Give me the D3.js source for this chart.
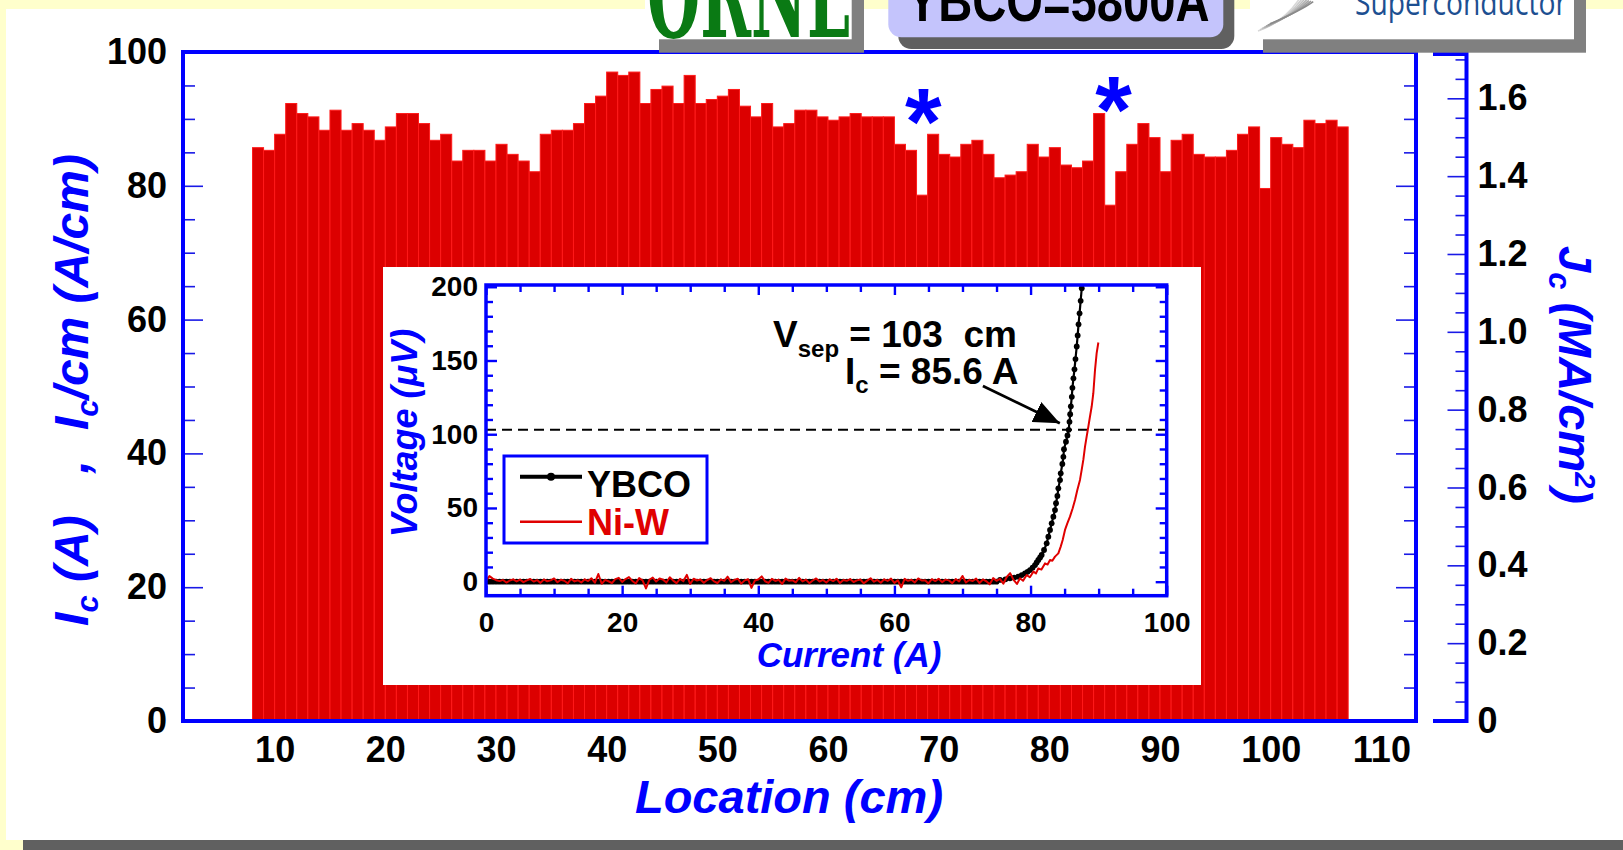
<!DOCTYPE html>
<html>
<head>
<meta charset="utf-8">
<script src="https://cdn.jsdelivr.net/npm/d3@7"></script>
<style>
  html, body { margin: 0; padding: 0; background: #ffffcc; overflow: hidden; }
  svg { display: block; font-family: "Liberation Sans", Arial, Helvetica, sans-serif; font-weight: bold; }
</style>
</head>
<body>
<svg id="chart" width="1623" height="850"></svg>
<script>
// ---------- Ic along the 1 m tape, one bar per cm ----------
const locations = [8,9,10,11,12,13,14,15,16,17,18,19,20,21,22,23,24,25,26,27,28,29,30,31,32,33,34,35,36,37,38,39,40,41,42,43,44,45,46,47,48,49,50,51,52,53,54,55,56,57,58,59,60,61,62,63,64,65,66,67,68,69,70,71,72,73,74,75,76,77,78,79,80,81,82,83,84,85,86,87,88,89,90,91,92,93,94,95,96,97,98,99,100,101,102,103,104,105,106];
const icValues = [
  85.7,85.3,87.7,92.3,90.8,90.3,88.3,91.3,88.3,89.3,
  88.3,86.8,88.8,90.8,90.8,89.3,86.8,87.7,83.7,85.3,
  85.3,83.7,86.2,84.7,83.7,82.1,87.7,88.3,88.3,89.3,
  92.3,93.4,97.0,96.5,97.0,92.3,94.4,94.9,92.3,96.5,
  92.3,92.9,93.4,94.4,91.9,90.3,92.3,88.8,89.3,91.3,
  91.3,90.3,89.8,90.3,90.8,90.3,90.3,90.3,86.2,85.3,
  78.6,87.7,84.7,84.3,86.2,86.8,84.7,81.2,81.6,82.1,
  86.2,84.3,85.7,83.1,82.7,83.7,90.8,77.1,82.1,86.2,
  89.3,87.2,82.1,86.8,87.7,84.7,84.3,84.3,85.3,87.7,
  88.8,79.6,87.2,86.2,85.7,89.8,89.3,89.8,88.8];
const yTicks = [0, 20, 40, 60, 80, 100];
const xTicks = [10, 20, 30, 40, 50, 60, 70, 80, 90, 100, 110];
const jcTicks = [0, 0.2, 0.4, 0.6, 0.8, 1.0, 1.2, 1.4, 1.6];
const jcTickLabels = ["0", "0.2", "0.4", "0.6", "0.8", "1.0", "1.2", "1.4", "1.6"];
// defect markers (location, Ic level of the marker)
const starLocations = [68.6, 85.8];
const starLevels = [91.8, 93.6];

// ---------- inset: V-I curve of the whole tape ----------
const sweepCurrent = [
  0,0.5,1,1.5,2,2.5,3,3.5,4,4.5,5,5.5,6,6.5,7,7.5,8,8.5,9,9.5,
  10,10.5,11,11.5,12,12.5,13,13.5,14,14.5,15,15.5,16,16.5,17,17.5,18,18.5,19,19.5,
  20,20.5,21,21.5,22,22.5,23,23.5,24,24.5,25,25.5,26,26.5,27,27.5,28,28.5,29,29.5,
  30,30.5,31,31.5,32,32.5,33,33.5,34,34.5,35,35.5,36,36.5,37,37.5,38,38.5,39,39.5,
  40,40.5,41,41.5,42,42.5,43,43.5,44,44.5,45,45.5,46,46.5,47,47.5,48,48.5,49,49.5,
  50,50.5,51,51.5,52,52.5,53,53.5,54,54.5,55,55.5,56,56.5,57,57.5,58,58.5,59,59.5,
  60,60.5,61,61.5,62,62.5,63,63.5,64,64.5,65,65.5,66,66.5,67,67.5,68,68.5,69,69.5,
  70,70.5,71,71.5,72,72.5,73,73.5,74,74.5,75,75.5,76,76.5];
// YBCO: superconducting baseline (0 .. 75 A) then the transition
const ybcoBaseline = [
  0,0,0,0,0,0,0,0,0,0,0,0,0,0,0,0,0,0,0,0,
  0,0,0,0,0,0,0,0,0,0,0,0,0,0,0,0,0,0,0,0,
  0,0,0,0,0,0,0,0,0,0,0,0,0,0,0,0,0,0,0,0,
  0,0,0,0,0,0,0,0,0,0,0,0,0,0,0,0,0,0,0,0,
  0,0,0,0,0,0,0,0,0,0,0,0,0,0,0,0,0,0,0,0,
  0,0,0,0,0,0,0,0,0,0,0,0,0,0,0,0,0,0,0,0,
  0,0,0,0,0,0,0,0,0,0,0,0,0,0,0,0,0,0,0,0,
  0,0,0,0,0,0,0,0,0,0,0];
const ybcoRiseCurrent = [75.51,76.3,76.98,77.6,78.20,78.7,79.18,79.55,79.92,80.3,80.65,80.9,81.14,81.4,81.63,81.98,82.37,82.61,82.86,83.10,83.35,83.59,83.74,83.94,84.08,84.33,84.43,84.67,84.82,84.91,85.20,85.42,85.60,85.72,85.82,85.92,86.06,86.15,86.30,86.45,86.60,86.78,86.92,87.05,87.20,87.36,87.52,87.62];
const ybcoRiseVoltage = [1.2,1.6,2.3,2.8,3.4,4.5,5.7,6.7,7.9,9.5,11.3,13.0,14.7,16.4,18.1,21.5,26.0,30.5,35.1,39.6,44.1,48.6,53.2,58.1,63.3,68.9,73.5,79.8,84.7,89.8,94.9,99.2,103.0,108.4,113.6,118.9,125.4,131.5,137.9,144.0,151.0,159.5,167.0,174.5,182.0,190.5,199.0,205.0];
// Ni-W substrate signal: noisy baseline (0 .. 76.5 A) then the rise
const niwBaseline = [
  0.5,3.8,2.1,1.0,0.4,1.2,-0.6,0.8,1.6,0.2,
  1.4,-0.3,0.9,1.8,0.1,1.1,-0.8,1.5,0.3,0.9,
  2.2,-0.4,1.3,0.6,-1.1,1.9,0.2,1.0,-0.5,1.6,
  0.4,2.3,-0.7,5.2,-1.4,1.2,0.3,-0.9,1.7,2.6,
  -0.2,1.8,3.1,0.5,-1.2,2.4,0.9,-4.6,1.3,2.8,
  0.1,2.2,1.4,-0.6,3.0,0.7,-1.0,1.9,0.4,4.6,
  -1.6,2.0,0.8,1.5,-0.7,1.1,2.4,0.2,-0.9,1.6,
  0.6,3.4,-0.3,1.2,2.0,-1.3,0.9,1.7,-4.2,0.8,
  1.5,3.6,0.3,-0.8,1.9,0.5,1.3,-1.5,2.1,0.7,
  1.0,-0.4,2.6,0.2,1.4,-1.0,0.8,2.2,0.1,1.2,
  -0.6,1.6,0.4,2.0,-0.9,1.1,0.6,1.8,-0.2,0.9,
  1.5,-1.1,0.7,2.3,0.0,1.2,-0.7,1.6,0.5,2.1,
  -0.8,1.0,-3.8,1.9,0.6,1.3,-0.5,2.2,0.8,1.0,
  -1.2,1.7,0.4,2.0,-0.3,1.4,0.9,-1.0,1.8,0.2,
  3.9,-0.6,1.2,0.5,2.1,-0.9,1.5,0.3,-1.8,2.4,
  0.6,1.9,-1.4,3.2];
const niwRiseCurrent = [77.0,77.5,78.0,78.45,78.9,79.43,79.9,80.41,80.8,81.14,81.6,82.12,82.5,82.86,83.2,83.59,84.08,84.43,84.72,85.06,85.40,85.79,86.19,86.53,86.87,87.26,87.51,87.75,88.00,88.24,88.49,88.73,88.98,89.22,89.47,89.71,89.96];
const niwRiseVoltage = [5.8,1.2,-1.5,2.3,0.6,4.5,3.0,6.8,5.6,9.0,8.2,12.4,11.6,14.7,14.2,17.0,19.2,23.8,28.3,35.1,39.6,44.1,49.8,55.4,62.2,69.0,75.8,82.6,91.6,98.4,105.2,112.0,118.8,127.8,143.6,155.0,162.2];
const insetXTicks = [0, 20, 40, 60, 80, 100];
const insetYTicks = [0, 50, 100, 150, 200];
const criterionVoltage = 103;       // 1 uV/cm over the 103 cm voltage-tap separation
const arrowTail = [73.0, 132.7];    // (A, uV)
const arrowTip = [84.3, 107.4];

// ---------- drawing ----------
const W = 1623, H = 850;
const BLUE = "#0000ff";
const svg = d3.select("#chart");

// slide background and white panel with its shadow
svg.append("rect").attr("width", W).attr("height", H).attr("fill", "#ffffcc");
svg.append("rect").attr("x", 23).attr("y", 840).attr("width", W - 23).attr("height", 10).attr("fill", "#606060");
svg.append("rect").attr("x", 6).attr("y", 9).attr("width", W - 6).attr("height", 831).attr("fill", "#ffffff");

const plot = { left: 183, right: 1416, top: 52, bottom: 721 };
const x = d3.scaleLinear().domain([1.72, 113.13]).range([plot.left, plot.right]);
const y = d3.scaleLinear().domain([0, 100]).range([plot.bottom, plot.top]);
const jc = d3.scaleLinear().domain([0, 1.719]).range([plot.bottom, plot.top]);

// bars
svg.append("g").selectAll("rect").data(locations).join("rect")
  .attr("x", d => x(d))
  .attr("width", d => x(d + 1) - x(d))
  .attr("y", (d, i) => y(icValues[i]))
  .attr("height", (d, i) => y(0) - y(icValues[i]))
  .attr("fill", "#dc0000")
  .attr("stroke", "#ff1a1a")
  .attr("stroke-width", 1);

// inner ticks on both vertical sides of the frame
function tickAxis(axis, pos, values, size) {
  const g = svg.append("g").attr("transform", pos)
    .call(axis.tickValues(values).tickSize(size).tickFormat(""));
  g.select(".domain").remove();
  g.selectAll("line").attr("stroke", "#1a1ae6").attr("stroke-width", 1.6);
  return g;
}
function labelStyle(g, size) {
  g.select(".domain").remove();
  g.attr("font-family", null).attr("font-size", null);
  g.selectAll("text").attr("font-size", size).attr("fill", "#000");
}
const yMinor = d3.range(0, 101, 5).filter(v => v % 20 !== 0);
tickAxis(d3.axisLeft(y), `translate(${plot.left},0)`, yMinor, -12);
tickAxis(d3.axisLeft(y), `translate(${plot.left},0)`, yTicks, -20);
tickAxis(d3.axisRight(y), `translate(${plot.right},0)`, yMinor, -12);
tickAxis(d3.axisRight(y), `translate(${plot.right},0)`, yTicks, -20);

// y labels
const yl = svg.append("g").attr("transform", `translate(${plot.left},0)`)
  .call(d3.axisLeft(y).tickValues(yTicks).tickSize(0).tickPadding(16));
labelStyle(yl, 36);

// x labels
const xl = svg.append("g").attr("transform", `translate(0,${plot.bottom})`)
  .call(d3.axisBottom(x).tickValues(xTicks).tickSize(0).tickPadding(15));
labelStyle(xl, 36);

// frame
svg.append("rect")
  .attr("x", plot.left).attr("y", plot.top)
  .attr("width", plot.right - plot.left).attr("height", plot.bottom - plot.top)
  .attr("fill", "none").attr("stroke", BLUE).attr("stroke-width", 4);

// Jc axis on the right
const jcX = 1466.5;
const jcMinor = d3.range(0, 1.7001, 0.05).filter(v => Math.abs(v / 0.2 - Math.round(v / 0.2)) > 1e-6);
tickAxis(d3.axisRight(jc), `translate(${jcX},0)`, jcMinor, -11);
tickAxis(d3.axisRight(jc), `translate(${jcX},0)`, jcTicks, -19);
svg.append("path")
  .attr("d", `M1433,${plot.top + 2}H${jcX}V${plot.bottom}H1433`)
  .attr("fill", "none").attr("stroke", BLUE).attr("stroke-width", 4);
const jl = svg.append("g").attr("transform", `translate(${jcX},0)`)
  .call(d3.axisRight(jc).tickValues(jcTicks).tickSize(0).tickPadding(11)
    .tickFormat((d, i) => jcTickLabels[i]));
labelStyle(jl, 36);

// defect markers
svg.append("g").selectAll("text").data(starLocations).join("text")
  .attr("x", d => x(d))
  .attr("y", (d, i) => y(starLevels[i]))
  .attr("dy", "0.5em")
  .attr("text-anchor", "middle")
  .attr("font-size", 94)
  .attr("fill", BLUE)
  .text("*");

// axis titles
svg.append("text")
  .attr("x", 789).attr("y", 813)
  .attr("text-anchor", "middle")
  .attr("font-size", 47).attr("font-style", "italic").attr("fill", BLUE)
  .text("Location (cm)");

const lt = svg.append("text")
  .attr("transform", "translate(88,390) rotate(-90)")
  .attr("text-anchor", "middle")
  .attr("font-size", 48).attr("font-style", "italic").attr("fill", BLUE)
  .style("white-space", "pre");
lt.append("tspan").text("I");
lt.append("tspan").attr("font-size", 31).attr("dy", 10).text("c");
lt.append("tspan").attr("dy", -10).text(" (A)");
lt.append("tspan").attr("dx", 42).text(",");
lt.append("tspan").attr("dx", 30).text("I");
lt.append("tspan").attr("font-size", 31).attr("dy", 10).text("c");
lt.append("tspan").attr("dy", -10).text("/cm (A/cm)");

const rt = svg.append("text")
  .attr("transform", "translate(1559,375) rotate(90)")
  .attr("text-anchor", "middle")
  .attr("font-size", 47).attr("font-style", "italic").attr("fill", BLUE)
  .style("white-space", "pre");
rt.append("tspan").text("J");
rt.append("tspan").attr("font-size", 31).attr("dy", 10).text("c");
rt.append("tspan").attr("dy", -10).text(" (MA/cm");
rt.append("tspan").attr("font-size", 29).attr("dy", -16).text("2");
rt.append("tspan").attr("dy", 16).text(")");

// ---------- inset ----------
svg.append("rect").attr("x", 383).attr("y", 267).attr("width", 818).attr("height", 418).attr("fill", "#ffffff");

const inset = { left: 486, right: 1166.7, top: 285, bottom: 595.7 };
const ix = d3.scaleLinear().domain([0, 100]).range([inset.left, inset.right]);
const iy = d3.scaleLinear().domain([-9.5, 201.2]).range([inset.bottom, inset.top]);

const ixMinor = d3.range(0, 101, 5).filter(v => v % 20 !== 0);
const iyMinor = d3.range(0, 201, 10).filter(v => v % 50 !== 0);
function insetTicks(axis, pos, values, size) {
  const g = svg.append("g").attr("transform", pos)
    .call(axis.tickValues(values).tickSize(size).tickFormat(""));
  g.select(".domain").remove();
  g.selectAll("line").attr("stroke", BLUE).attr("stroke-width", 2.4);
}
insetTicks(d3.axisBottom(ix), `translate(0,${inset.bottom})`, ixMinor, -7);
insetTicks(d3.axisBottom(ix), `translate(0,${inset.bottom})`, insetXTicks, -10);
insetTicks(d3.axisTop(ix), `translate(0,${inset.top})`, ixMinor, -7);
insetTicks(d3.axisTop(ix), `translate(0,${inset.top})`, insetXTicks, -10);
insetTicks(d3.axisLeft(iy), `translate(${inset.left},0)`, iyMinor, -7);
insetTicks(d3.axisLeft(iy), `translate(${inset.left},0)`, insetYTicks, -11);
insetTicks(d3.axisRight(iy), `translate(${inset.right},0)`, iyMinor, -7);
insetTicks(d3.axisRight(iy), `translate(${inset.right},0)`, insetYTicks, -11);

const ixl = svg.append("g").attr("transform", `translate(0,${inset.bottom})`)
  .call(d3.axisBottom(ix).tickValues(insetXTicks).tickSize(0).tickPadding(16));
labelStyle(ixl, 28);
const iyl = svg.append("g").attr("transform", `translate(${inset.left},0)`)
  .call(d3.axisLeft(iy).tickValues(insetYTicks).tickSize(0).tickPadding(8));
labelStyle(iyl, 28);

svg.append("defs").append("clipPath").attr("id", "insetClip")
  .append("rect").attr("x", inset.left).attr("y", inset.top)
  .attr("width", inset.right - inset.left).attr("height", inset.bottom - inset.top);

const curves = svg.append("g").attr("clip-path", "url(#insetClip)");

// criterion line
curves.append("line")
  .attr("x1", ix(0)).attr("x2", ix(100))
  .attr("y1", iy(criterionVoltage)).attr("y2", iy(criterionVoltage))
  .attr("stroke", "#000").attr("stroke-width", 2).attr("stroke-dasharray", "10,6");

const line = d3.line().x(d => ix(d[0])).y(d => iy(d[1]));
const ybco = d3.zip(sweepCurrent.slice(0, ybcoBaseline.length), ybcoBaseline)
  .concat(d3.zip(ybcoRiseCurrent, ybcoRiseVoltage));
const niw = d3.zip(sweepCurrent, niwBaseline)
  .concat(d3.zip(niwRiseCurrent, niwRiseVoltage));

curves.append("path").attr("d", line(ybco))
  .attr("fill", "none").attr("stroke", "#000").attr("stroke-width", 2.2);
curves.append("g").selectAll("circle").data(ybco).join("circle")
  .attr("cx", d => ix(d[0])).attr("cy", d => iy(d[1])).attr("r", 2.9).attr("fill", "#000");
curves.append("path").attr("d", line(niw))
  .attr("fill", "none").attr("stroke", "#e00000").attr("stroke-width", 2)
  .attr("stroke-linejoin", "round");

// inset frame
svg.append("rect")
  .attr("x", inset.left).attr("y", inset.top)
  .attr("width", inset.right - inset.left).attr("height", inset.bottom - inset.top)
  .attr("fill", "none").attr("stroke", BLUE).attr("stroke-width", 3.5);

// annotation and arrow
const defs = svg.select("defs");
defs.append("marker").attr("id", "arrowHead")
  .attr("markerUnits", "userSpaceOnUse")
  .attr("markerWidth", 28).attr("markerHeight", 22)
  .attr("refX", 26).attr("refY", 11).attr("orient", "auto")
  .append("path").attr("d", "M0,0L26,11L0,22Z").attr("fill", "#000");
svg.append("line")
  .attr("x1", ix(arrowTail[0])).attr("y1", iy(arrowTail[1]))
  .attr("x2", ix(arrowTip[0])).attr("y2", iy(arrowTip[1]))
  .attr("stroke", "#000").attr("stroke-width", 2.8)
  .attr("marker-end", "url(#arrowHead)");

const a1 = svg.append("text").attr("x", 773).attr("y", 346.7)
  .attr("font-size", 37).attr("fill", "#000").style("white-space", "pre");
a1.append("tspan").text("V");
a1.append("tspan").attr("font-size", 24).attr("dy", 10).text("sep");
a1.append("tspan").attr("dy", -10).text(" = 103  cm");
const a2 = svg.append("text").attr("x", 845).attr("y", 384)
  .attr("font-size", 37).attr("fill", "#000").style("white-space", "pre");
a2.append("tspan").text("I");
a2.append("tspan").attr("font-size", 24).attr("dy", 9).text("c");
a2.append("tspan").attr("dy", -9).text(" = 85.6 A");

// legend
const lg = svg.append("g");
lg.append("rect").attr("x", 504).attr("y", 456).attr("width", 203).attr("height", 87)
  .attr("fill", "#fff").attr("stroke", BLUE).attr("stroke-width", 3);
lg.append("line").attr("x1", 520).attr("x2", 582).attr("y1", 476.7).attr("y2", 476.7)
  .attr("stroke", "#000").attr("stroke-width", 4);
lg.append("circle").attr("cx", 551).attr("cy", 476.7).attr("r", 4).attr("fill", "#000");
lg.append("text").attr("x", 587).attr("y", 496.7).attr("font-size", 36).attr("fill", "#000").text("YBCO");
lg.append("line").attr("x1", 520).attr("x2", 582).attr("y1", 521.7).attr("y2", 521.7)
  .attr("stroke", "#e00000").attr("stroke-width", 2.4);
lg.append("text").attr("x", 587).attr("y", 535).attr("font-size", 36).attr("fill", "#e00000").text("Ni-W");

// inset axis titles
svg.append("text").attr("x", 849).attr("y", 667)
  .attr("text-anchor", "middle").attr("font-size", 35).attr("font-style", "italic").attr("fill", BLUE)
  .text("Current (A)");
svg.append("text").attr("transform", "translate(417,433) rotate(-90)")
  .attr("text-anchor", "middle").attr("font-size", 36).attr("font-style", "italic").attr("fill", BLUE)
  .text("Voltage (\u03bcV)");

// ---------- header logos (partly above the slide edge) ----------
const logos = svg.append("g");
// laboratory logo
logos.append("rect").attr("x", 659).attr("y", -5).attr("width", 205).attr("height", 57.7).attr("fill", "#808080");
logos.append("rect").attr("x", 645).attr("y", -5).attr("width", 206.7).attr("height", 44.3).attr("fill", "#ffffff");
logos.append("text").attr("x", 647).attr("y", 36.5)
  .attr("textLength", 203).attr("lengthAdjust", "spacingAndGlyphs")
  .attr("font-family", "'DejaVu Serif', 'Liberation Serif', serif")
  .attr("font-size", 120).attr("fill", "#0a7a14").text("ORNL");
// tape label badge
logos.append("rect").attr("x", 898.3).attr("y", -20).attr("width", 336).attr("height", 69)
  .attr("rx", 13).attr("fill", "#606060");
logos.append("rect").attr("x", 888.3).attr("y", -20).attr("width", 335).attr("height", 57.3)
  .attr("rx", 13).attr("fill", "#c4c4fc");
logos.append("text").attr("x", 906.7).attr("y", 20.7)
  .attr("textLength", 303).attr("lengthAdjust", "spacingAndGlyphs")
  .attr("font-size", 58).attr("fill", "#000").text("YBCO=5800A");
// company logo
logos.append("rect").attr("x", 1263).attr("y", -5).attr("width", 323).attr("height", 57.7).attr("fill", "#808080");
logos.append("rect").attr("x", 1250).attr("y", -5).attr("width", 324).attr("height", 44.3).attr("fill", "#ffffff");
const swoosh = logos.append("g").attr("fill", "none").attr("stroke-width", 1.6);
[0, 1, 2, 3, 4, 5, 6].forEach(k => {
  swoosh.append("path")
    .attr("d", `M${1258 + k * 2},${31 - k * 1.2} Q${1284 + k * 3},${22 - k * 2} ${1300 + k * 2.2},${-2 + k * 0.6}`)
    .attr("stroke", d3.interpolateRgb("#d8d8d8", "#8a8a8a")(k / 6));
});
logos.append("text").attr("x", 1355).attr("y", 15)
  .attr("textLength", 212).attr("lengthAdjust", "spacingAndGlyphs")
  .attr("font-weight", "normal").attr("font-family", "'Open Sans', 'Liberation Sans', sans-serif")
  .attr("font-size", 34).attr("fill", "#1d4f91").text("Superconductor");
</script>
</body>
</html>
